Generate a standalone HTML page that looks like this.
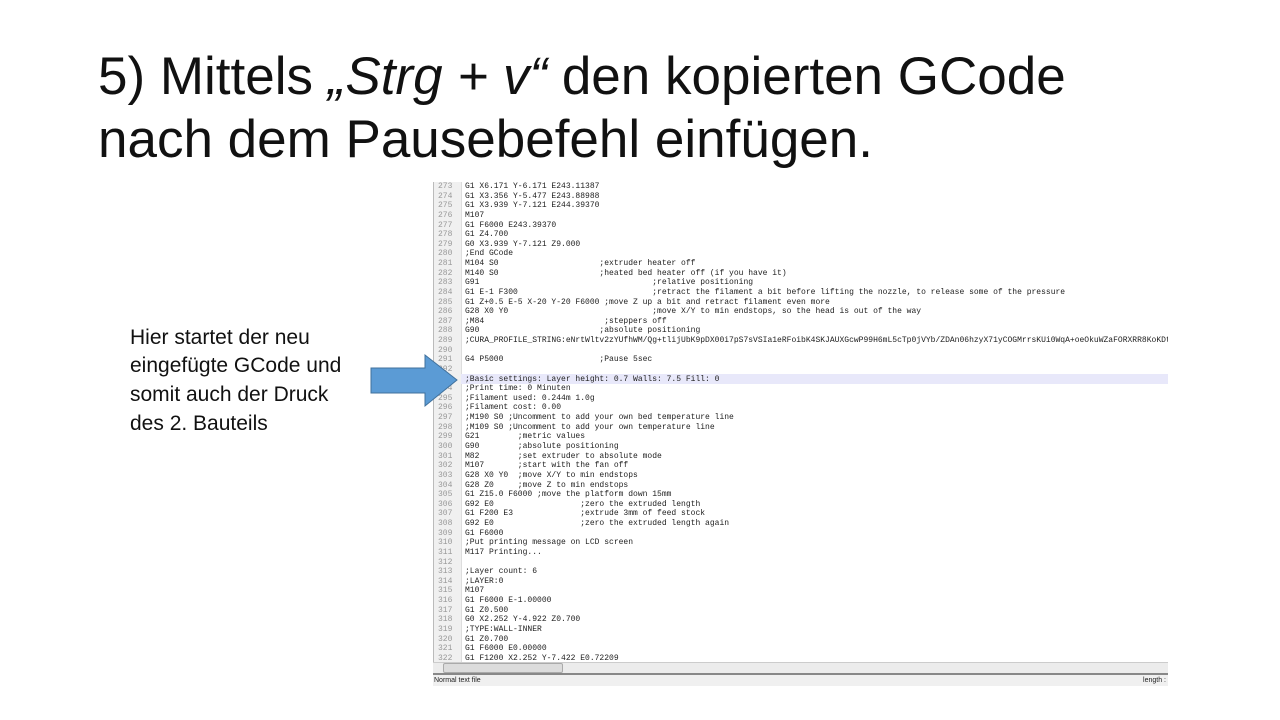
<!DOCTYPE html>
<html><head><meta charset="utf-8"><style>
body{margin:0;width:1280px;height:720px;background:#fff;position:relative;overflow:hidden;font-family:"Liberation Sans",sans-serif}
.t{position:absolute;left:98px;font-size:53px;color:#111;white-space:nowrap;line-height:1}
.l{position:absolute;left:130px;font-size:21px;color:#111;line-height:1;white-space:nowrap}
#ed{position:absolute;left:433px;top:182px;width:735px;height:504px;background:#fff;overflow:hidden}
#gut{position:absolute;left:0;top:0;width:27px;height:480px;background:#f0f0f0;border-left:1px solid #bbb;border-right:1px solid #ddd}
.r{position:absolute;left:0;height:10px;font-family:"Liberation Mono",monospace;font-size:8px;line-height:10px;white-space:pre;color:#222}
.n{position:absolute;left:5px;color:#999}
.c{position:absolute;left:32px}
</style></head><body>
<div class="t" style="top:50px">5) Mittels <i>„Strg + v“</i> den kopierten GCode</div>
<div class="t" style="top:113px">nach dem Pausebefehl einfügen.</div>
<div class="l" style="top:327px">Hier startet der neu</div>
<div class="l" style="top:355px">eingefügte GCode und</div>
<div class="l" style="top:384px">somit auch der Druck</div>
<div class="l" style="top:413px">des 2. Bauteils</div>
<div id="ed">
<div id="gut"></div>
<div style="position:absolute;left:28px;top:192px;width:707px;height:10px;background:#e8e8fa"></div>
<div id="lines"></div>
<div style="position:absolute;left:0;top:480px;width:735px;height:11px;background:#ececec;border-top:1px solid #ccc"></div>
<div style="position:absolute;left:10px;top:481px;width:118px;height:8px;background:#dcdcdc;border:1px solid #aaa;border-radius:2px"></div>
<div style="position:absolute;left:0;top:491px;width:735px;height:2px;background:#888"></div>
<div style="position:absolute;left:0;top:493px;width:735px;height:11px;background:#f0f0f0;font-size:7px;line-height:11px;color:#222"><span style="position:absolute;left:1px">Normal text file</span><span style="position:absolute;right:2px">length :</span></div>
</div>
<svg style="position:absolute;left:0;top:0" width="1280" height="720"><polygon points="371,368 425,368 425,355 457,380 425,406 425,393 371,393" fill="#5b9bd5" stroke="#41719c" stroke-width="1"/></svg>
<script>
var L=["G1 X6.171 Y-6.171 E243.11387","G1 X3.356 Y-5.477 E243.88988","G1 X3.939 Y-7.121 E244.39370","M107","G1 F6000 E243.39370","G1 Z4.700","G0 X3.939 Y-7.121 Z9.000",";End GCode",
"M104 S0                     ;extruder heater off",
"M140 S0                     ;heated bed heater off (if you have it)",
"G91                                    ;relative positioning",
"G1 E-1 F300                            ;retract the filament a bit before lifting the nozzle, to release some of the pressure",
"G1 Z+0.5 E-5 X-20 Y-20 F6000 ;move Z up a bit and retract filament even more",
"G28 X0 Y0                              ;move X/Y to min endstops, so the head is out of the way",
";M84                         ;steppers off",
"G90                         ;absolute positioning",
";CURA_PROFILE_STRING:eNrtWltv2zYUfhWM/Qg+tlijUbK9pDX00i7pS7sVSIa1eRFoibK4SKJAUXGcwP99H6mL5cTp0jVYb/ZDAn06hzyX71yCOGMrrsKUi0WqA+oeOkuWZaFORXRR8KoKDt",
"","G4 P5000                    ;Pause 5sec","",
";Basic settings: Layer height: 0.7 Walls: 7.5 Fill: 0",";Print time: 0 Minuten",";Filament used: 0.244m 1.0g",";Filament cost: 0.00",
";M190 S0 ;Uncomment to add your own bed temperature line",";M109 S0 ;Uncomment to add your own temperature line",
"G21        ;metric values","G90        ;absolute positioning","M82        ;set extruder to absolute mode","M107       ;start with the fan off",
"G28 X0 Y0  ;move X/Y to min endstops","G28 Z0     ;move Z to min endstops","G1 Z15.0 F6000 ;move the platform down 15mm",
"G92 E0                  ;zero the extruded length","G1 F200 E3              ;extrude 3mm of feed stock","G92 E0                  ;zero the extruded length again",
"G1 F6000",";Put printing message on LCD screen","M117 Printing...","",";Layer count: 6",";LAYER:0","M107","G1 F6000 E-1.00000","G1 Z0.500",
"G0 X2.252 Y-4.922 Z0.700",";TYPE:WALL-INNER","G1 Z0.700","G1 F6000 E0.00000","G1 F1200 X2.252 Y-7.422 E0.72209"];
var h="";for(var i=0;i<L.length;i++){var e=L[i].replace(/&/g,"&amp;").replace(/</g,"&lt;");h+='<div class="r" style="top:'+(i*9.63)+'px"><span class="n">'+(273+i)+'</span><span class="c">'+e+'</span></div>';}
document.getElementById("lines").innerHTML=h;
</script>
</body></html>
